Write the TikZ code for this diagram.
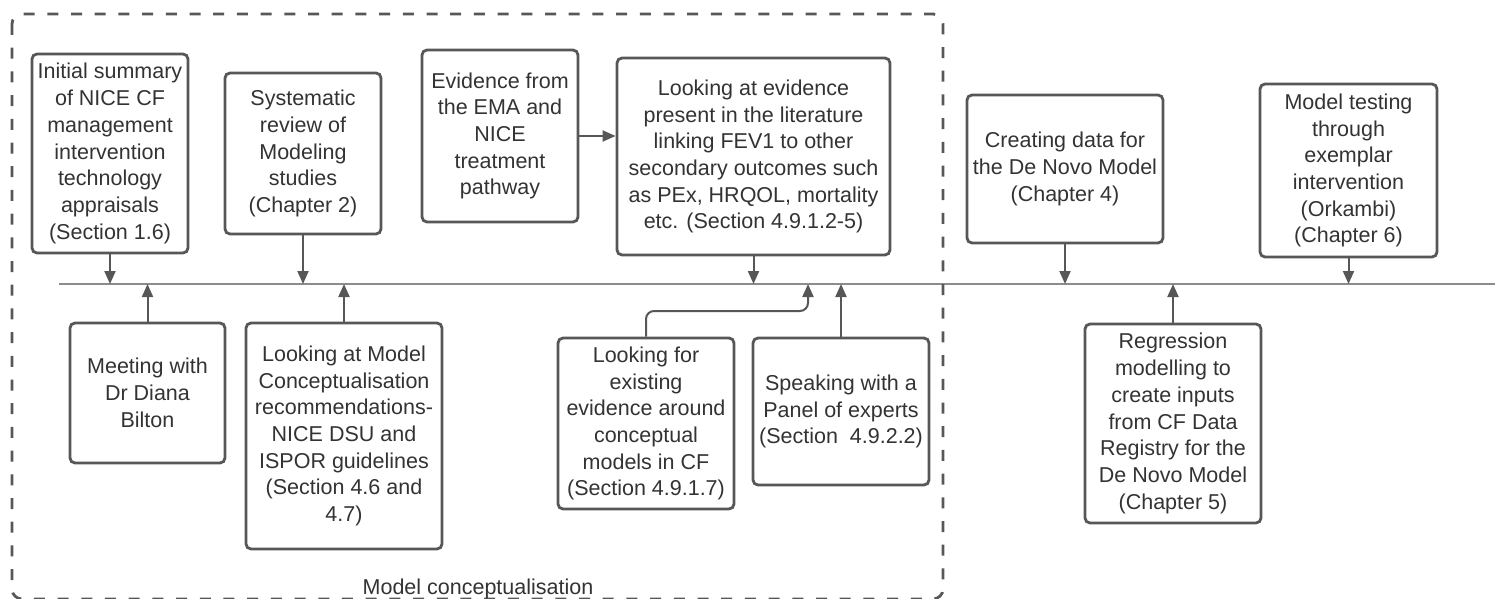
\documentclass[tikz,border=0pt]{standalone}
\usepackage{fontspec}
\setmainfont{Liberation Sans}
\usetikzlibrary{arrows.meta}
\definecolor{edge}{HTML}{575757}
\definecolor{ink}{HTML}{333333}
\definecolor{axis}{HTML}{8C8C8C}
\begin{document}
\begin{tikzpicture}[x=1pt,y=-1pt,
  stepbox/.style={draw=edge,line width=2.8pt,rounded corners=5pt,fill=white,
    text=ink,align=center,inner sep=0pt,
    font=\fontsize{21.5}{26.7}\selectfont},
  arr/.style={draw=edge,line width=2pt,
    -{Triangle[length=13pt,width=11pt]}},
  timeline/.style={draw=axis,line width=2pt},
  groupframe/.style={draw=edge,line width=2.8pt,dash pattern=on 11pt off 12.7pt,
    rounded corners=10pt}]
\useasboundingbox (0,0) rectangle (1495,599);

% time axis
\coordinate (tlL) at (59,284);
\coordinate (tlR) at (1495,284);
\draw[timeline] (tlL) -- (tlR);

% grouping frame
\draw[groupframe] (12,14) rectangle (943,599);
\node[text=ink,anchor=base,font=\fontsize{21.5}{26.7}\selectfont] (grp) at (478,594) {Model conceptualisation};

% steps above the axis
\node[stepbox,minimum width=156pt,minimum height=199pt] (A) at (110,153.5)
  {Initial summary\\of NICE CF\\management\\intervention\\technology\\appraisals\\(Section 1.6)};
\node[stepbox,minimum width=156pt,minimum height=161pt] (B) at (303,153.5)
  {Systematic\\review of\\Modeling\\studies\\(Chapter 2)};
\node[stepbox,minimum width=156pt,minimum height=172pt] (C) at (500,136)
  {Evidence from\\the EMA and\\NICE\\treatment\\pathway};
\node[stepbox,minimum width=273pt,minimum height=197pt] (D) at (753.5,156.5)
  {Looking at evidence\\present in the literature\\linking FEV1 to other\\secondary outcomes such\\as PEx, HRQOL, mortality\\etc. (Section 4.9.1.2-5)};
\node[stepbox,minimum width=196pt,minimum height=148pt] (E) at (1065,169)
  {Creating data for\\the De Novo Model\\(Chapter 4)};
\node[stepbox,minimum width=177pt,minimum height=173pt] (F) at (1348.5,170.5)
  {Model testing\\through\\exemplar\\intervention\\(Orkambi)\\(Chapter 6)};

% steps below the axis
\node[stepbox,minimum width=155pt,minimum height=140pt] (G) at (147.5,393)
  {Meeting with\\Dr Diana\\Bilton};
\node[stepbox,minimum width=196pt,minimum height=226pt] (H) at (344,436)
  {Looking at Model\\Conceptualisation\\recommendations-\\NICE DSU and\\ISPOR guidelines\\(Section 4.6 and\\4.7)};
\node[stepbox,minimum width=176pt,minimum height=171pt] (I) at (646,423.5)
  {Looking for\\existing\\evidence around\\conceptual\\models in CF\\(Section 4.9.1.7)};
\node[stepbox,minimum width=176pt,minimum height=147pt] (J) at (841,411.5)
  {Speaking with a\\Panel of experts\\(Section\ \ 4.9.2.2)};
\node[stepbox,minimum width=176pt,minimum height=199pt] (K) at (1173,423.5)
  {Regression\\modelling to\\create inputs\\from CF Data\\Registry for the\\De Novo Model\\(Chapter 5)};

% connectors into the axis
\foreach \n in {A,B,D,E,F} {\draw[arr] (\n.south) -- (\n.south |- tlL);}
\foreach \n in {G,H,J,K} {\draw[arr] (\n.north) -- (\n.north |- tlL);}
\coordinate (Ijoin) at (808,311);
\draw[arr,rounded corners=8pt] (I.north) -- (I.north |- Ijoin) -- (Ijoin) -- (Ijoin |- tlL);
\draw[arr] (C.east) -- (C.east -| D.west);
\end{tikzpicture}
\end{document}
